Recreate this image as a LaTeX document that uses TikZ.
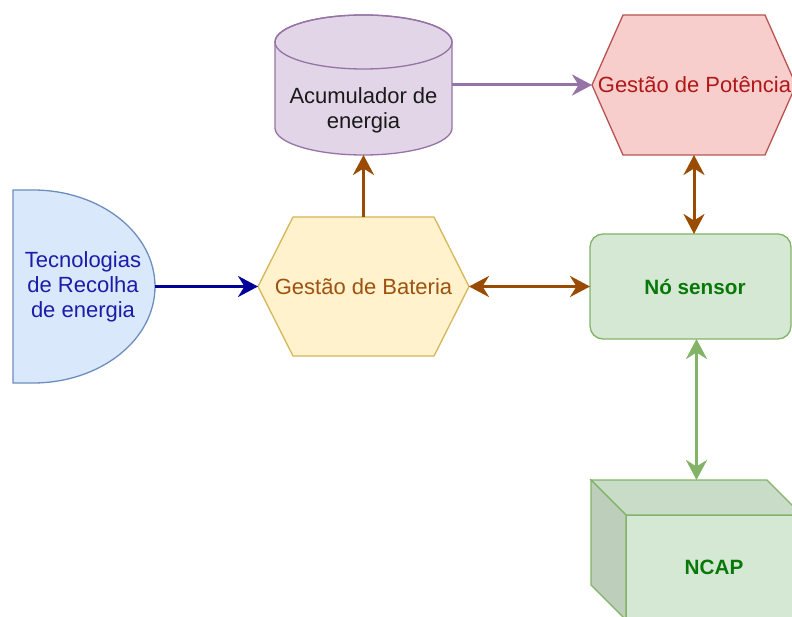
\documentclass[tikz,border=0pt]{standalone}
\usepackage{fontspec}
\setmainfont{Liberation Sans}
\usetikzlibrary{arrows.meta}

% palette
\definecolor{bluefill}{HTML}{DAE8FC}
\definecolor{bluestroke}{HTML}{6C8EBF}
\definecolor{bluetext}{HTML}{1C1CA8}
\definecolor{bluelink}{HTML}{000099}
\definecolor{yelfill}{HTML}{FFF2CC}
\definecolor{yelstroke}{HTML}{D6B656}
\definecolor{browntext}{HTML}{9E5210}
\definecolor{brownlink}{HTML}{994C00}
\definecolor{purfill}{HTML}{E1D5E7}
\definecolor{purstroke}{HTML}{9673A6}
\definecolor{redfill}{HTML}{F8CECC}
\definecolor{redstroke}{HTML}{B85450}
\definecolor{redtext}{HTML}{B01818}
\definecolor{grnfill}{HTML}{D5E8D4}
\definecolor{grntop}{HTML}{C9DCC8}
\definecolor{grnside}{HTML}{BDCFBB}
\definecolor{grnstroke}{HTML}{82B366}
\definecolor{grntext}{HTML}{087808}
\definecolor{darktext}{HTML}{1A1A1A}

\pgfdeclarelayer{bg}
\pgfsetlayers{bg,main}

\tikzset{
  frame/.style={draw=none, inner sep=0pt, outer sep=0pt},
  txt/.style={font=\fontsize{22}{25}\selectfont, align=center, inner sep=0pt},
  btxt/.style={font=\fontsize{20.7}{25}\selectfont\bfseries, align=center, inner sep=0pt},
  outline/.style={line width=1.3pt, line join=miter},
  tip/.tip={Stealth[length=20pt,width=21pt,inset=6.5pt]},
  link/.style={line width=3pt, -tip},
  twoway/.style={line width=3pt, tip-tip},
}

\begin{document}
\begin{tikzpicture}[x=1pt,y=-1pt]
\useasboundingbox (0,0) rectangle (792,617);

% block frames (used for connections)
\node[frame, minimum width=142pt, minimum height=193pt] (rec) at (84,286.5) {};
\node[frame, minimum width=211pt, minimum height=139pt] (bat) at (363.5,286.5) {};
\node[frame, minimum width=177pt, minimum height=140pt] (acc) at (363.5,85) {};
\node[frame, minimum width=204pt, minimum height=140pt] (pot) at (694,85) {};
\node[frame, minimum width=201pt, minimum height=105pt] (sen) at (690.5,286.5) {};
\node[frame, minimum width=211pt, minimum height=140pt] (ncap) at (696.5,550) {};

% labels
\node[txt, text=bluetext] (reclbl) at (83,287) {Tecnologias\\de Recolha\\de energia};
\node[txt, text=browntext] (batlbl) at (363.5,287) {Gestão de Bateria};
\node[txt, text=darktext] (acclbl) at (363.5,110) {Acumulador de\\energia};
\node[txt, text=redtext] (potlbl) at (694.5,85) {Gestão de Potência};
\node[btxt, text=grntext] (senlbl) at (695,287) {Nó sensor};
\node[btxt, text=grntext] (ncaplbl) at (714,567) {NCAP};

\begin{pgfonlayer}{bg}
  % harvesting source (delay shape)
  \path[outline, fill=bluefill, draw=bluestroke]
    (13,190) -- (33,190) arc[start angle=90, end angle=-90, x radius=122pt, y radius=96.5pt]
    -- (13,383) -- cycle;
  % battery management hexagon
  \path[outline, fill=yelfill, draw=yelstroke]
    (258,286.5) -- (293,217) -- (434,217) -- (469,286.5) -- (434,356) -- (293,356) -- cycle;
  % energy storage cylinder
  \path[outline, fill=purfill, draw=purstroke]
    (275,42) -- (275,128) arc[start angle=180, end angle=360, x radius=88.5pt, y radius=27pt]
    -- (452,42) arc[start angle=0, end angle=180, x radius=88.5pt, y radius=27pt] -- cycle;
  \draw[outline, draw=purstroke] (363.5,42) ellipse[x radius=88.5pt, y radius=27pt];
  % power management hexagon
  \path[outline, fill=redfill, draw=redstroke]
    (592,85) -- (623,15) -- (765,15) -- (796,85) -- (765,155) -- (623,155) -- cycle;
  % sensor node
  \path[outline, fill=grnfill, draw=grnstroke, rounded corners=13pt]
    (590,234) rectangle (791,339);
  % NCAP cube
  \path[outline, fill=grnfill, draw=grnstroke] (626,515) rectangle (802,620);
  \path[outline, fill=grntop, draw=grnstroke]
    (591,480) -- (767,480) -- (802,515) -- (626,515) -- cycle;
  \path[outline, fill=grnside, draw=grnstroke]
    (591,480) -- (626,515) -- (626,620) -- (591,585) -- cycle;
\end{pgfonlayer}

% connectors
\draw[link, draw=bluelink, fill=bluelink] (rec.east) -- (bat.west);
\draw[link, draw=brownlink, fill=brownlink] (bat.north) -- (acc.south);
\draw[link, draw=purstroke, fill=purstroke] (acc.east) -- (pot.west);
\draw[twoway, draw=brownlink, fill=brownlink] (pot.south) -- (pot.south |- sen.north);
\draw[twoway, draw=brownlink, fill=brownlink] (bat.east) -- (sen.west);
\draw[twoway, draw=grnstroke, fill=grnstroke] (ncap.north |- sen.south) -- (ncap.north);
\end{tikzpicture}
\end{document}
